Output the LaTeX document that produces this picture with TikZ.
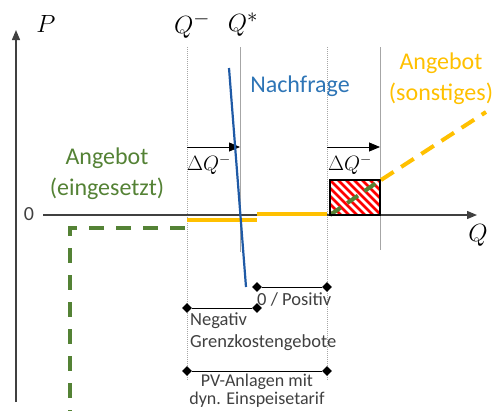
\documentclass[tikz,border=0pt]{standalone}
\usepackage{fontspec}
\setmainfont{Carlito}
\usetikzlibrary{arrows.meta,shapes.geometric}
\definecolor{axisgray}{HTML}{404040}
\definecolor{guidegray}{HTML}{A6A6A6}
\definecolor{agreen}{HTML}{548235}
\definecolor{aorange}{HTML}{FFC000}
\definecolor{nblue}{HTML}{2E75B6}
\definecolor{lblue}{HTML}{1F5AA6}
\definecolor{hred}{HTML}{FF0000}
\begin{document}
\begin{tikzpicture}[x=1pt,y=-1pt,
  axis/.style={draw=axisgray,line width=1.3pt,-{Triangle[length=10pt,width=8pt]}},
  guide/.style={draw=guidegray,line width=0.6pt},
  guidedot/.style={guide,dash pattern=on 1pt off 1pt},
  shiftarrow/.style={draw=black,line width=0.8pt,-{Triangle[length=11pt,width=9pt]}},
  markd/.style={diamond,fill=black,inner sep=0pt,minimum size=10pt},
  bracket/.style={draw=black,line width=0.8pt},
  small/.style={font=\fontsize{18.5}{22}\selectfont,text=axisgray,inner sep=0pt},
  big/.style={font=\fontsize{24}{31}\selectfont,align=center,inner sep=0pt},
  mathlbl/.style={font=\fontsize{28}{30}\selectfont,inner sep=0pt},
  dmath/.style={font=\fontsize{21}{22}\selectfont,inner sep=0pt},
  supply/.style={draw=aorange,line width=3.5pt},
  supplydash/.style={draw=aorange,line width=4pt,dash pattern=on 15pt off 9pt},
  greendash/.style={draw=agreen,line width=4pt,dash pattern=on 15pt off 12pt},
  demand/.style={draw=lblue,line width=2.2pt},
]
\useasboundingbox (0,0) rectangle (497,410);

% coordinates
\coordinate (Pbot) at (16,402);
\coordinate (Ptop) at (16,30);
\coordinate (Qleft) at (43,215);
\coordinate (Qright) at (477,215);

% guides
\coordinate (g1t) at (187,47); \coordinate (g1b) at (187,380);
\coordinate (g2t) at (240,47); \coordinate (g2b) at (240,252);
\coordinate (g3t) at (327,47); \coordinate (g3b) at (327,380);
\coordinate (g4t) at (380,47); \coordinate (g4b) at (380,250);
\draw[guidedot] (g1t) -- (g1b);
\draw[guide] (g2t) -- (g2b);
\draw[guidedot] (g3t) -- (g3b);
\draw[guide] (g4t) -- (g4b);

% axes
\draw[axis] (Pbot) -- (Ptop);
\draw[axis] (Qleft) -- (Qright);
\node[mathlbl] (P) at (46,24) {$P$};
\node[mathlbl] (Q) at (478,235) {$Q$};
\node[font=\fontsize{20}{22}\selectfont,text=axisgray,inner sep=0pt] (zero) at (29,214) {0};
\node[mathlbl] (Qm) at (192,25) {$Q^{-}$};
\node[mathlbl] (Qs) at (243,25) {$Q^{*}$};

% shift arrows
\coordinate (a1s) at (187,147); \coordinate (a1e) at (240,147);
\coordinate (a2s) at (327,147); \coordinate (a2e) at (380,147);
\draw[shiftarrow] (a1s) -- (a1e);
\draw[shiftarrow] (a2s) -- (a2e);
\node[dmath] (d1) at (209,165) {$\Delta Q^{-}$};
\node[dmath] (d2) at (350,165) {$\Delta Q^{-}$};

% hatched box
\coordinate (hb1) at (330,180); \coordinate (hb2) at (380,215);
\fill[white] (hb1) rectangle (hb2);
\begin{scope}
  \clip (hb1) rectangle (hb2);
  \foreach \i in {-48,-40,...,56}
    \draw[hred,line width=2.8pt] (330+\i,180) -- (365+\i,215);
\end{scope}
\coordinate (gi1) at (330,215); \coordinate (gi2) at (379,181);
\draw[greendash,dash pattern=on 13pt off 8pt] (gi1) -- (gi2);
\draw[black,line width=1.3pt] (hb1) rectangle (hb2);

% supply curves
\coordinate (s1) at (187,220); \coordinate (s2) at (257,220);
\coordinate (s3) at (257,214); \coordinate (s4) at (327,214);
\draw[supply] (s1) -- (s2);
\draw[supply] (s3) -- (s4);
\coordinate (o1) at (381,180); \coordinate (o2) at (486,112);
\draw[supplydash] (o1) -- (o2);

% green dashed installed supply
\coordinate (e1) at (185,228); \coordinate (e2) at (70,228); \coordinate (e3) at (70,412);
\draw[greendash] (e1) -- (e2) -- (e3);

% demand
\coordinate (n1) at (229,68); \coordinate (n2) at (246,287);
\draw[demand] (n1) -- (n2);

% labels
\node[big,text=nblue] (nach) at (300,86) {Nachfrage};
\node[big,text=aorange] (sonst) at (441,79) {Angebot\\(sonstiges)};
\node[big,text=agreen] (eing) at (107,174) {Angebot\\(eingesetzt)};

% brackets
\node[markd] (b1l) at (257,287) {};
\node[markd] (b1r) at (327,287) {};
\draw[bracket] (b1l) -- (b1r);
\node[small,anchor=west] (t1) at (257,299) {0 / Positiv};

\node[markd] (b2l) at (187,308) {};
\node[markd] (b2r) at (257,308) {};
\draw[bracket] (b2l) -- (b2r);
\node[small,anchor=north west,align=left] (t2) at (190,313) {Negativ\\Grenzkostengebote};

\node[markd] (b3l) at (187,371) {};
\node[markd] (b3r) at (327,371) {};
\draw[bracket] (b3l) -- (b3r);
\node[small,anchor=north,align=center,font=\fontsize{18}{18}\selectfont] (t3) at (257,374) {PV-Anlagen mit\\dyn. Einspeisetarif};
\end{tikzpicture}
\end{document}
